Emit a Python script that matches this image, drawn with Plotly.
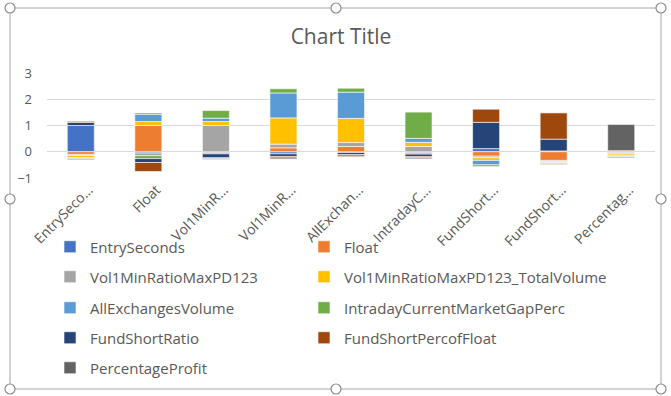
import plotly.graph_objects as go

categories = ["EntrySeconds", "Float", "Vol1MinRatioMaxPD123", "Vol1MinRatioMaxPD123_TotalVolume",
              "AllExchangesVolume", "IntradayCurrentMarketGapPerc", "FundShortRatio",
              "FundShortPercofFloat", "PercentageProfit"]
tick_labels = ["EntrySeco…", "Float", "Vol1MinR…", "Vol1MinR…", "AllExchan…",
               "IntradayC…", "FundShort…", "FundShort…", "Percentag…"]

series_names = categories
EntrySeconds = [1.00, -0.05, -0.04, -0.08, -0.03, -0.04, 0.12, 0.03, -0.04]
Float = [-0.10, 1.00, -0.04, 0.15, 0.20, -0.05, -0.17, -0.33, 0.04]
Vol1MinRatioMaxPD123 = [-0.04, -0.10, 1.00, 0.14, 0.15, 0.20, -0.06, -0.04, -0.02]
Vol1MinRatioMaxPD123_TotalVolume = [-0.08, 0.15, 0.15, 1.00, 0.92, 0.16, -0.10, -0.04, -0.07]
AllExchangesVolume = [-0.03, 0.27, 0.13, 0.95, 1.00, 0.15, -0.17, -0.02, -0.02]
IntradayCurrentMarketGapPerc = [-0.01, -0.11, 0.29, 0.16, 0.15, 1.00, -0.07, -0.02, -0.04]
FundShortRatio = [0.12, -0.15, -0.15, -0.10, -0.08, -0.10, 1.00, 0.45, -0.01]
FundShortPercofFloat = [0.04, -0.34, -0.03, -0.06, -0.06, -0.04, 0.50, 1.00, -0.03]
PercentageProfit = [-0.04, 0.05, -0.03, -0.04, -0.03, -0.04, -0.01, -0.03, 1.00]

series_values = [EntrySeconds, Float, Vol1MinRatioMaxPD123, Vol1MinRatioMaxPD123_TotalVolume,
                 AllExchangesVolume, IntradayCurrentMarketGapPerc, FundShortRatio,
                 FundShortPercofFloat, PercentageProfit]
colors = ["#4472C4", "#ED7D31", "#A5A5A5", "#FFC000", "#5B9BD5", "#70AD47",
          "#264478", "#9E480E", "#636363"]

W, H = 671, 396
L, R, T, B = 47, 16, 73, 218
PW, PH = W - L - R, H - T - B

def px_x(x):
    return (x - L) / PW

def px_y(y):
    return (H - B - y) / PH

FONT = "Open Sans"
GRAY = "#595959"

# legend layout: 2 columns, row-major order
col_text_x = [87, 341]
row_y = [247, 277, 308, 338, 368]

fig = go.Figure()
legends = {}
for i, (name, vals, col) in enumerate(zip(series_names, series_values, colors)):
    lid = "legend" if i == 0 else f"legend{i + 1}"
    fig.add_trace(go.Bar(
        x=categories, y=vals, name=name,
        marker=dict(color=col, line=dict(color="white", width=0.6)),
        legend=lid,
    ))
    legends[lid] = dict(
        x=px_x(col_text_x[i % 2] - 37), y=px_y(row_y[i // 2]),
        xanchor="left", yanchor="middle", orientation="v",
        font=dict(family=FONT, size=15, color=GRAY),
        bgcolor="rgba(0,0,0,0)", itemclick=False, itemdoubleclick=False,
    )

shapes = [dict(type="rect", xref="paper", yref="paper",
               x0=px_x(10), x1=px_x(661), y0=px_y(389), y1=px_y(8),
               line=dict(color="#A6A6A6", width=1), layer="below")]
for (cx, cy) in [(10, 8), (336, 8), (661, 8), (10, 199), (661, 199),
                 (10, 389), (336, 389), (661, 389)]:
    r = 5
    shapes.append(dict(type="circle", xref="paper", yref="paper",
                       x0=px_x(cx - r), x1=px_x(cx + r), y0=px_y(cy + r), y1=px_y(cy - r),
                       line=dict(color="#8C8C8C", width=1.2), fillcolor="white", layer="above"))

fig.update_layout(
    width=W, height=H,
    margin=dict(l=L, r=R, t=T, b=B),
    paper_bgcolor="white", plot_bgcolor="white",
    barmode="relative", bargap=0.6,
    title=dict(text="Chart Title", x=341 / W, xref="container", xanchor="center",
               y=1 - 37 / H, yref="container", yanchor="middle",
               font=dict(family=FONT, size=21, color=GRAY)),
    xaxis=dict(tickmode="array", tickvals=categories, ticktext=tick_labels,
               tickangle=-45, tickfont=dict(family=FONT, size=14, color=GRAY),
               showgrid=False, showline=False, ticks="", ticklabelshift=8),
    yaxis=dict(range=[-1, 3], dtick=1, tickfont=dict(family=FONT, size=13, color=GRAY),
               showgrid=True, gridcolor="#D9D9D9", gridwidth=1,
               zeroline=True, zerolinecolor="#D9D9D9", zerolinewidth=1,
               showline=False, ticks="", ticklabelstandoff=14),
    shapes=shapes,
    showlegend=True,
    **legends,
)

fig.write_html("out.html")
